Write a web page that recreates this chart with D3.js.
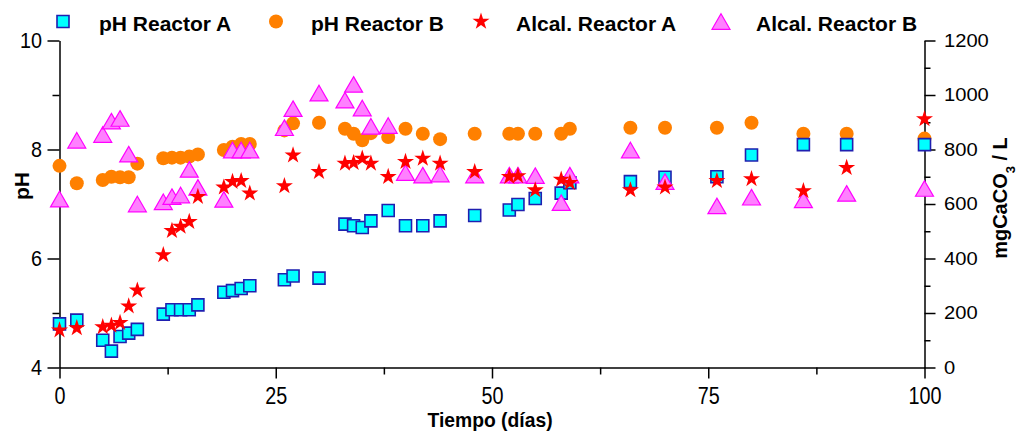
<!DOCTYPE html>
<meta charset="utf-8">
<html>

<head>
    <script src="https://d3js.org/d3.v7.min.js"></script>
    <style>
        body { margin: 0; background: #fff; }
        svg { font-family: "Liberation Sans", Arial, sans-serif; }
        .axis path, .axis line { stroke: #000; stroke-width: 1.5px; }
        .axis text { fill: #000; }
    </style>
</head>

<body>
    <div id="chart"></div>

    <script>
        // sampling days
        const days = [0, 2, 5, 6, 7, 8, 9, 12, 13, 14, 15, 16, 19, 20, 21, 22, 26, 27, 30,
            33, 34, 35, 36, 38, 40, 42, 44, 48, 52, 53, 55, 58, 59, 66, 70, 76, 80, 86, 91, 100];

        // pH, reactor A and B (left axis)
        const phA = [4.80, 4.87, 4.50, 4.30, 4.57, 4.63, 4.70, 4.98, 5.06, 5.06, 5.06, 5.15, 5.38, 5.41, 5.45, 5.50, 5.61, 5.68, 5.64,
            6.63, 6.60, 6.57, 6.69, 6.88, 6.60, 6.60, 6.69, 6.79, 6.89, 6.99, 7.10, 7.20, 7.39, 7.41, 7.49, 7.50, 7.90, 8.09, 8.09, 8.09];
        const phB = [7.70, 7.38, 7.44, 7.50, 7.49, 7.49, 7.74, 7.84, 7.85, 7.85, 7.87, 7.91, 7.99, 8.05, 8.10, 8.10, 8.35, 8.48, 8.49,
            8.38, 8.29, 8.17, 8.30, 8.23, 8.38, 8.29, 8.19, 8.29, 8.29, 8.29, 8.29, 8.29, 8.38, 8.40, 8.40, 8.40, 8.49, 8.29, 8.29, 8.20];

        // alkalinity mgCaCO3/L, reactor A and B (right axis)
        const alkA = [137, 145, 149, 154, 164, 225, 283, 413, 502, 517, 535, 627, 661, 682, 685, 639, 666, 779, 718,
            749, 751, 767, 749, 700, 755, 767, 749, 718, 700, 703, 651, 690, 678, 651, 661, 685, 692, 648, 733, 912];
        const alkB = [618, 834, 855, 904, 914, 783, 600, 608, 627, 633, 727, 661, 617, 798, 798, 798, 880, 950, 1007,
            981, 1039, 952, 885, 888, 715, 706, 710, 706, 706, 706, 704, 605, 706, 798, 682, 593, 625, 615, 639, 657];

        const xTicks = [0, 25, 50, 75, 100];
        const xMinor = [12.5, 37.5, 62.5, 87.5];
        const phTicks = [4, 6, 8, 10];
        const phMinor = [5, 7, 9];
        const alkTicks = [0, 200, 400, 600, 800, 1000, 1200];
        const alkMinor = [100, 300, 500, 700, 900, 1100];

        const seriesNames = ["pH Reactor A", "pH Reactor B", "Alcal. Reactor A", "Alcal. Reactor B"];

        const W = 1018, H = 432;
        const svg = d3.select("#chart").append("svg").attr("width", W).attr("height", H);

        // scales
        const x = d3.scaleLinear().domain([0, 100]).range([59.5, 924.5]);
        const yL = d3.scaleLinear().domain([4, 10]).range([367.5, 40.5]);
        const yR = d3.scaleLinear().domain([0, 1200]).range([367.5, 40.5]);
        const fmt = d3.format("d");

        // marker styles
        const sym = {
            sq: d3.symbol().type(d3.symbolSquare).size(144)(),
            ci: d3.symbol().type(d3.symbolCircle).size(Math.PI * 7 * 7)(),
            st: d3.symbol().type(d3.symbolStar).size(90)(),
            tr: d3.symbol().type(d3.symbolTriangle).size(140)()
        };
        function drawMarker(g, kind) {
            if (kind === "sq") g.append("path").attr("d", sym.sq).attr("fill", "#00ffff").attr("stroke", "#1f1fb0").attr("stroke-width", 1.6);
            if (kind === "ci") g.append("path").attr("d", sym.ci).attr("fill", "#ff8000");
            if (kind === "st") g.append("path").attr("d", sym.st).attr("fill", "#ff0000");
            if (kind === "tr") g.append("path").attr("d", sym.tr).attr("transform", "translate(0,2.6)")
                .attr("fill", "#ff80ff").attr("stroke", "#ff00ff").attr("stroke-width", 1.2);
        }

        // x axis (bottom)
        svg.append("g").attr("class", "axis").attr("transform", "translate(0,367.5)")
            .call(d3.axisBottom(x).tickValues(xTicks).tickFormat(fmt).tickSize(11).tickSizeOuter(0).tickPadding(9))
            .selectAll("text").style("font-size", "23px").attr("transform", "scale(0.86,1)");
        svg.append("g").attr("class", "axis").attr("transform", "translate(0,367.5)")
            .call(d3.axisBottom(x).tickValues(xMinor).tickSize(7).tickFormat(""))
            .select(".domain").remove();

        // left axis (pH)
        svg.append("g").attr("class", "axis").attr("transform", "translate(59.5,0)")
            .call(d3.axisLeft(yL).tickValues(phTicks).tickFormat(fmt).tickSize(12).tickSizeOuter(0).tickPadding(7.4))
            .selectAll("text").style("font-size", "22px").attr("transform", "scale(0.9,1)");
        svg.append("g").attr("class", "axis").attr("transform", "translate(59.5,0)")
            .call(d3.axisLeft(yL).tickValues(phMinor).tickSize(7).tickFormat(""))
            .select(".domain").remove();

        // right axis (alkalinity)
        svg.append("g").attr("class", "axis").attr("transform", "translate(924.5,0)")
            .call(d3.axisRight(yR).tickValues(alkTicks).tickFormat(fmt).tickSize(11).tickSizeOuter(0).tickPadding(6.4))
            .selectAll("text").style("font-size", "18px").attr("transform", "scale(1.12,1)");
        svg.append("g").attr("class", "axis").attr("transform", "translate(924.5,0)")
            .call(d3.axisRight(yR).tickValues(alkMinor).tickSize(6).tickFormat(""))
            .select(".domain").remove();

        // axis titles
        svg.append("g").attr("transform", "translate(490,427) scale(0.92,1)")
            .append("text").attr("text-anchor", "middle").style("font-size", "21px").style("font-weight", "bold")
            .text("Tiempo (días)");
        svg.append("text").attr("transform", "translate(29,186) rotate(-90)").attr("text-anchor", "middle")
            .style("font-size", "21px").style("font-weight", "bold").text("pH");
        const rt = svg.append("text").attr("transform", "translate(1007,198) rotate(-90)").attr("text-anchor", "middle")
            .style("font-size", "20px").style("font-weight", "bold");
        rt.append("tspan").text("mgCaCO");
        rt.append("tspan").attr("baseline-shift", "sub").style("font-size", "13px").text("3");
        rt.append("tspan").text(" / L");

        // data points: draw order circle, square, triangle, star
        const layers = [
            { kind: "ci", vals: phB, y: yL },
            { kind: "sq", vals: phA, y: yL },
            { kind: "tr", vals: alkB, y: yR },
            { kind: "st", vals: alkA, y: yR }
        ];
        layers.forEach(function (L) {
            svg.append("g").selectAll("g").data(days).enter().append("g")
                .attr("transform", function (d, i) { return "translate(" + x(d) + "," + L.y(L.vals[i]) + ")"; })
                .each(function () { drawMarker(d3.select(this), L.kind); });
        });

        // legend
        const legendItems = [
            { kind: "sq", mx: 63, tx: 99 },
            { kind: "ci", mx: 276, tx: 311 },
            { kind: "st", mx: 481, tx: 516 },
            { kind: "tr", mx: 721, tx: 756 }
        ];
        legendItems.forEach(function (it, i) {
            const g = svg.append("g").attr("transform", "translate(" + it.mx + ",21.5)");
            drawMarker(g, it.kind);
            svg.append("text").attr("x", it.tx).attr("y", 31)
                .style("font-size", "21px").style("font-weight", "bold").text(seriesNames[i]);
        });
    </script>
</body>

</html>
